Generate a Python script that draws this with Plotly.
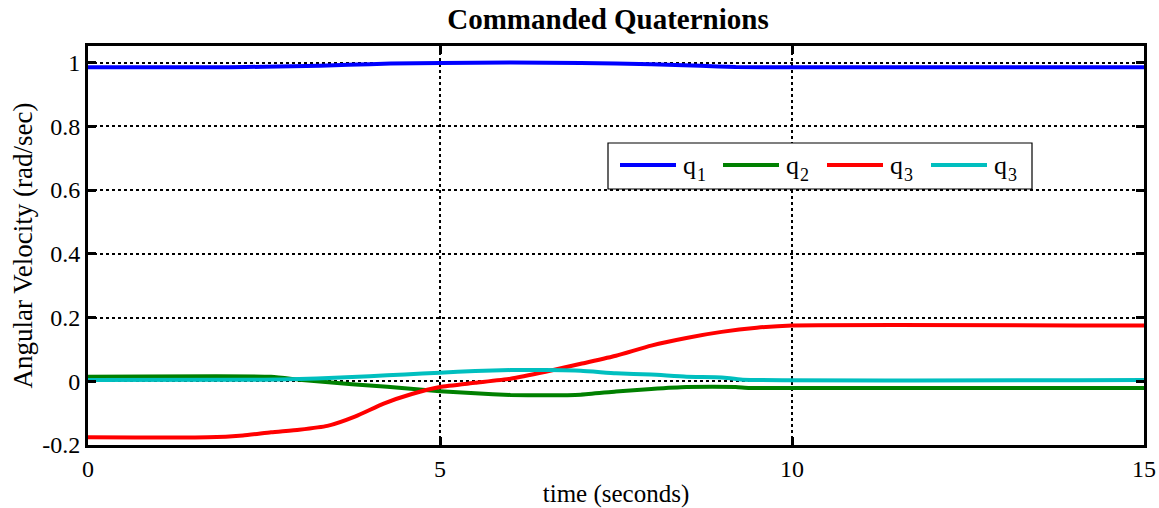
import plotly.graph_objects as go

# Commanded quaternion components over time (seconds)
t_q1 = [0, 2.0, 2.5, 3.3, 3.7, 4.3, 5.0, 6.0, 7.0, 8.0, 8.7, 9.2, 10.0, 15.0]
q1 = [0.985, 0.985, 0.987, 0.990, 0.993, 0.997, 0.999, 1.000, 0.999, 0.995, 0.990, 0.986, 0.985, 0.985]

t_q2 = [0, 2.6, 3.0, 3.5, 4.0, 4.5, 5.0, 5.5, 6.0, 6.5, 7.0, 7.5, 8.0, 8.5, 9.2, 9.4, 15.0]
q2 = [0.014, 0.014, 0.005, -0.005, -0.013, -0.022, -0.031, -0.038, -0.043, -0.044, -0.042,
      -0.032, -0.024, -0.018, -0.018, -0.021, -0.021]

t_q3 = [0, 1.7, 2.2, 2.6, 3.0, 3.4, 3.8, 4.2, 4.6, 5.0, 5.5, 6.0, 6.5, 7.0, 7.5, 8.0,
        8.5, 9.0, 9.5, 10.0, 15.0]
q3 = [-0.176, -0.176, -0.170, -0.160, -0.152, -0.140, -0.110, -0.070, -0.040, -0.018,
      -0.005, 0.008, 0.030, 0.055, 0.080, 0.112, 0.136, 0.155, 0.168, 0.175, 0.175]

t_q4 = [0, 2.5, 3.0, 3.5, 4.0, 4.5, 5.0, 5.5, 6.0, 6.5, 7.0, 7.5, 8.0, 8.5, 9.0, 9.3, 15.0]
q4 = [0.004, 0.005, 0.007, 0.011, 0.016, 0.021, 0.027, 0.032, 0.035, 0.035, 0.033,
      0.025, 0.021, 0.014, 0.012, 0.005, 0.004]

# Legend labels: symbol plus subscript index
label_base = ["q", "q", "q", "q"]
label_sub = ["1", "2", "3", "3"]
colors = ["#0000FF", "#008000", "#FF0000", "#00BFBF"]
series = list(zip([t_q1, t_q2, t_q3, t_q4], [q1, q2, q3, q4], label_sub, colors))

x_ticks = [0, 5, 10, 15]
y_ticks = [-0.2, 0, 0.2, 0.4, 0.6, 0.8, 1]
y_tick_text = ["-0.2", "0", "0.2", "0.4", "0.6", "0.8", "1"]

FONT = "Liberation Serif, Times New Roman, serif"

# Plot-area geometry in pixels (used to place the boxed legend)
W, H = 1159, 508
ML, MR, MT, MB = 88, 15, 46, 63
PW, PH = W - ML - MR, H - MT - MB


def px_x(px):
    return (px - ML) / PW


def px_y(py):
    return (H - MB - py) / PH


fig = go.Figure()
for tx, ty, sub, color in series:
    fig.add_trace(go.Scatter(x=tx, y=ty, mode="lines", name="q" + sub, showlegend=False,
                             line=dict(color=color, width=4, shape="spline", smoothing=0.5)))

axis_common = dict(
    showline=True, linecolor="black", linewidth=3, mirror="allticks",
    ticks="inside", ticklen=8, tickwidth=3, tickcolor="black",
    showgrid=True, gridcolor="black", gridwidth=1.5, griddash="dot",
    zeroline=False, automargin=False,
    tickfont=dict(family=FONT, size=24, color="black"),
)

# Boxed legend: frame, sample lines and labels
shapes = [dict(type="rect", xref="paper", yref="paper",
               x0=px_x(608), x1=px_x(1032), y0=px_y(189), y1=px_y(143),
               line=dict(color="black", width=1.2), fillcolor="white", layer="above")]
annotations = []
line_starts = [620, 723, 827, 931]
for x0, base, sub, color in zip(line_starts, label_base, label_sub, colors):
    shapes.append(dict(type="line", xref="paper", yref="paper",
                       x0=px_x(x0), x1=px_x(x0 + 56), y0=px_y(165), y1=px_y(165),
                       line=dict(color=color, width=4), layer="above"))
    annotations.append(dict(xref="paper", yref="paper", x=px_x(x0 + 61), y=px_y(165),
                            xanchor="left", yanchor="middle", showarrow=False,
                            text=base, font=dict(family=FONT, size=26, color="black")))
    annotations.append(dict(xref="paper", yref="paper", x=px_x(x0 + 75), y=px_y(175),
                            xanchor="left", yanchor="middle", showarrow=False,
                            text=sub, font=dict(family=FONT, size=18, color="black")))

fig.update_layout(
    width=W, height=H,
    margin=dict(l=ML, r=MR, t=MT, b=MB),
    paper_bgcolor="white", plot_bgcolor="white",
    font=dict(family=FONT, color="black", size=22),
    title=dict(text="<b>Commanded Quaternions</b>", x=608 / W, xanchor="center",
               y=1 - 19 / H, yanchor="middle", xref="container", yref="container",
               font=dict(family=FONT, size=29, color="black")),
    xaxis=dict(range=[0, 15], tickvals=x_ticks,
               title=dict(text="time (seconds)", font=dict(family=FONT, size=25), standoff=4),
               **axis_common),
    yaxis=dict(range=[-0.2, 1.052], tickvals=y_ticks, ticktext=y_tick_text,
               title=dict(text="Angular Velocity (rad/sec)", font=dict(family=FONT, size=27), standoff=2),
               **axis_common),
    shapes=shapes,
    annotations=annotations,
    showlegend=False,
)

fig.write_html("out.html")
